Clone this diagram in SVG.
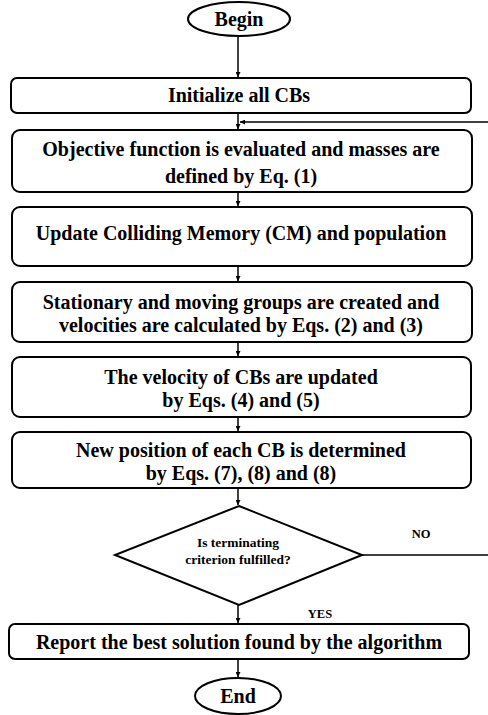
<svg xmlns="http://www.w3.org/2000/svg" width="488" height="715" viewBox="0 0 488 715">
<style>
.box{fill:#fff;stroke:#000;stroke-width:2}
.t{font-family:"Liberation Serif","Times New Roman",serif;font-weight:bold;font-size:20px;text-anchor:middle;fill:#000}
.s{font-family:"Liberation Serif","Times New Roman",serif;font-weight:bold;font-size:13.5px;text-anchor:middle;fill:#000}
.c{fill:none;stroke:#000;stroke-width:1.5}
</style>
<defs>
<marker id="ah" viewBox="0 0 10 10" refX="10" refY="5" markerWidth="5" markerHeight="5" orient="auto" markerUnits="userSpaceOnUse">
<path d="M0,0 L10,5 L0,10 z" fill="#000"/>
</marker>
</defs>
<rect width="488" height="715" fill="#fff"/>
<g id="connectors">
<line class="c" x1="238" y1="37" x2="238" y2="77" marker-end="url(#ah)"/>
<line class="c" x1="238" y1="113" x2="238" y2="129" marker-end="url(#ah)"/>
<polyline class="c" points="362,555 490,555 490,122 240,122" marker-end="url(#ah)"/>
<line class="c" x1="238" y1="192" x2="238" y2="206" marker-end="url(#ah)"/>
<line class="c" x1="238" y1="266" x2="238" y2="281" marker-end="url(#ah)"/>
<line class="c" x1="238" y1="342" x2="238" y2="356" marker-end="url(#ah)"/>
<line class="c" x1="238" y1="417" x2="238" y2="431" marker-end="url(#ah)"/>
<line class="c" x1="238" y1="488" x2="238" y2="505" marker-end="url(#ah)"/>
<line class="c" x1="238" y1="605" x2="238" y2="623" marker-end="url(#ah)"/>
<line class="c" x1="238" y1="659" x2="238" y2="677" marker-end="url(#ah)"/>
<text class="s" x="421" y="538" style="font-size:12.5px">NO</text>
<text class="s" x="320" y="618" style="font-size:12.5px">YES</text>
</g>
<g id="begin">
<ellipse class="box" cx="239" cy="19" rx="51" ry="17"/>
<text class="t" x="239" y="26">Begin</text>
</g>
<g id="init">
<rect class="box" x="11" y="78" width="460" height="35" rx="6"/>
<text class="t" x="239" y="102">Initialize all CBs</text>
</g>
<g id="objective">
<rect class="box" x="12" y="130" width="460" height="62" rx="8"/>
<text class="t" x="241" y="156">Objective function is evaluated and masses are</text>
<text class="t" x="241" y="183">defined by Eq. (1)</text>
</g>
<g id="update">
<rect class="box" x="12" y="207" width="460" height="59" rx="8"/>
<text class="t" x="241" y="240">Update Colliding Memory (CM) and population</text>
</g>
<g id="groups">
<rect class="box" x="12" y="282" width="460" height="60" rx="8"/>
<text class="t" x="241" y="309">Stationary and moving groups are created and</text>
<text class="t" x="241" y="332">velocities are calculated by Eqs. (2) and (3)</text>
</g>
<g id="velocity">
<rect class="box" x="12" y="357" width="459" height="60" rx="8"/>
<text class="t" x="241" y="384">The velocity of CBs are updated</text>
<text class="t" x="241" y="407">by Eqs. (4) and (5)</text>
</g>
<g id="position">
<rect class="box" x="12" y="432" width="459" height="56" rx="8"/>
<text class="t" x="241" y="457">New position of each CB is determined</text>
<text class="t" x="241" y="480">by Eqs. (7), (8) and (8)</text>
</g>
<g id="decision">
<polygon class="box" points="239,506 362,555 239,605 115,555"/>
<text class="s" x="238" y="547">Is terminating</text>
<text class="s" x="238" y="564">criterion fulfilled?</text>
</g>
<g id="report">
<rect class="box" x="9" y="624" width="460" height="35" rx="6"/>
<text class="t" x="239" y="649">Report the best solution found by the algorithm</text>
</g>
<g id="end">
<ellipse class="box" cx="238" cy="696" rx="43" ry="18"/>
<text class="t" x="238" y="703">End</text>
</g>
</svg>
